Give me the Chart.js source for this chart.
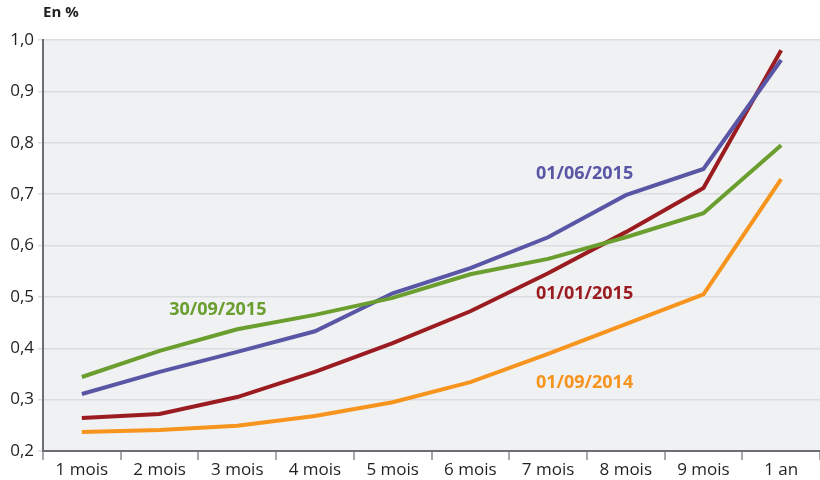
<!DOCTYPE html>
<html><head><meta charset="utf-8">
<script src="https://cdn.jsdelivr.net/npm/chart.js@4/dist/chart.umd.min.js"></script>
<style>html,body{margin:0;padding:0;background:#fff;}#wrap{width:820px;height:480px;position:relative;}</style>
</head><body><div id="wrap"><canvas id="c" width="820" height="480"></canvas></div>
<script>
const categories = ["1 mois","2 mois","3 mois","4 mois","5 mois","6 mois","7 mois","8 mois","9 mois","1 an"];
const s20150930 = [0.344,0.395,0.437,0.465,0.498,0.544,0.574,0.616,0.663,0.795];
const s20150601 = [0.311,0.354,0.393,0.433,0.507,0.556,0.616,0.698,0.749,0.961];
const s20150101 = [0.264,0.272,0.305,0.354,0.410,0.472,0.546,0.626,0.712,0.980];
const s20140901 = [0.237,0.241,0.249,0.268,0.295,0.334,0.389,0.447,0.505,0.729];
const seriesNames = ["30/09/2015","01/06/2015","01/01/2015","01/09/2014"];
const yTicks = [0.2,0.3,0.4,0.5,0.6,0.7,0.8,0.9,1.0];
// label anchors: [category index, value]
const labelAnchors = [[1.75,0.474],[6.47,0.740],[6.47,0.505],[6.47,0.333]];

const colors = ["#6a9e2f","#5a56a6","#9b1c20","#f7941d"];
const FONT = "'Open Sans', 'DejaVu Sans', sans-serif";

const bgPlugin = {
  id:'bg',
  beforeDraw(chart){
    const {ctx, chartArea:a} = chart;
    ctx.save(); ctx.fillStyle = '#f0f1f3';
    ctx.fillRect(a.left, a.top, a.right-a.left, a.bottom-a.top);
    ctx.restore();
  },
  afterDraw(chart){
    const ctx = chart.ctx;
    const xs = chart.scales.x, ys = chart.scales.y;
    ctx.save();
    ctx.font = "bold 18px " + FONT;
    ctx.textAlign = 'center'; ctx.textBaseline = 'middle';
    labelAnchors.forEach((p,i)=>{
      const i0 = Math.floor(p[0]), f = p[0]-i0;
      const x = xs.getPixelForValue(i0) + f*(xs.getPixelForValue(1)-xs.getPixelForValue(0));
      ctx.fillStyle = colors[i];
      ctx.fillText(seriesNames[i], x, ys.getPixelForValue(p[1]));
    });
    ctx.fillStyle = '#231f20';
    ctx.font = "bold 15px " + FONT;
    ctx.textAlign = 'left';
    ctx.fillText("En %", 43, 13);
    ctx.restore();
  }
};

const data = [s20150930, s20150601, s20150101, s20140901];
new Chart(document.getElementById('c'), {
  type:'line',
  data:{
    labels: categories,
    datasets: data.map((d,i)=>({label:seriesNames[i], data:d, borderColor:colors[i], backgroundColor:colors[i], borderWidth:4, pointRadius:0, tension:0, fill:false}))
  },
  options:{
    responsive:false, animation:false,
    layout:{padding:{top:40,right:0,left:0,bottom:0}},
    plugins:{legend:{display:false}, tooltip:{enabled:false}},
    scales:{
      x:{
        offset:true,
        grid:{offset:true, drawOnChartArea:false, drawTicks:true, tickLength:9, color:'#a7a9ac', lineWidth:2},
        border:{color:'#6d6e71', width:2},
        ticks:{color:'#231f20', font:{family:FONT, size:17}, padding:0, maxRotation:0},
        afterFit(s){ s.height = 29; }
      },
      y:{
        min:0.2, max:1.0,
        afterBuildTicks(s){ s.ticks = yTicks.map(v=>({value:v})); },
        grid:{color:'#dcdde0', lineWidth:1.5, drawTicks:true, tickLength:5},
        border:{color:'#6d6e71', width:2},
        ticks:{color:'#231f20', font:{family:FONT, size:17}, padding:4, callback:v=>v.toFixed(1).replace('.',',')},
        afterFit(s){ s.width = 43; }
      }
    }
  },
  plugins:[bgPlugin]
});
</script></body></html>
